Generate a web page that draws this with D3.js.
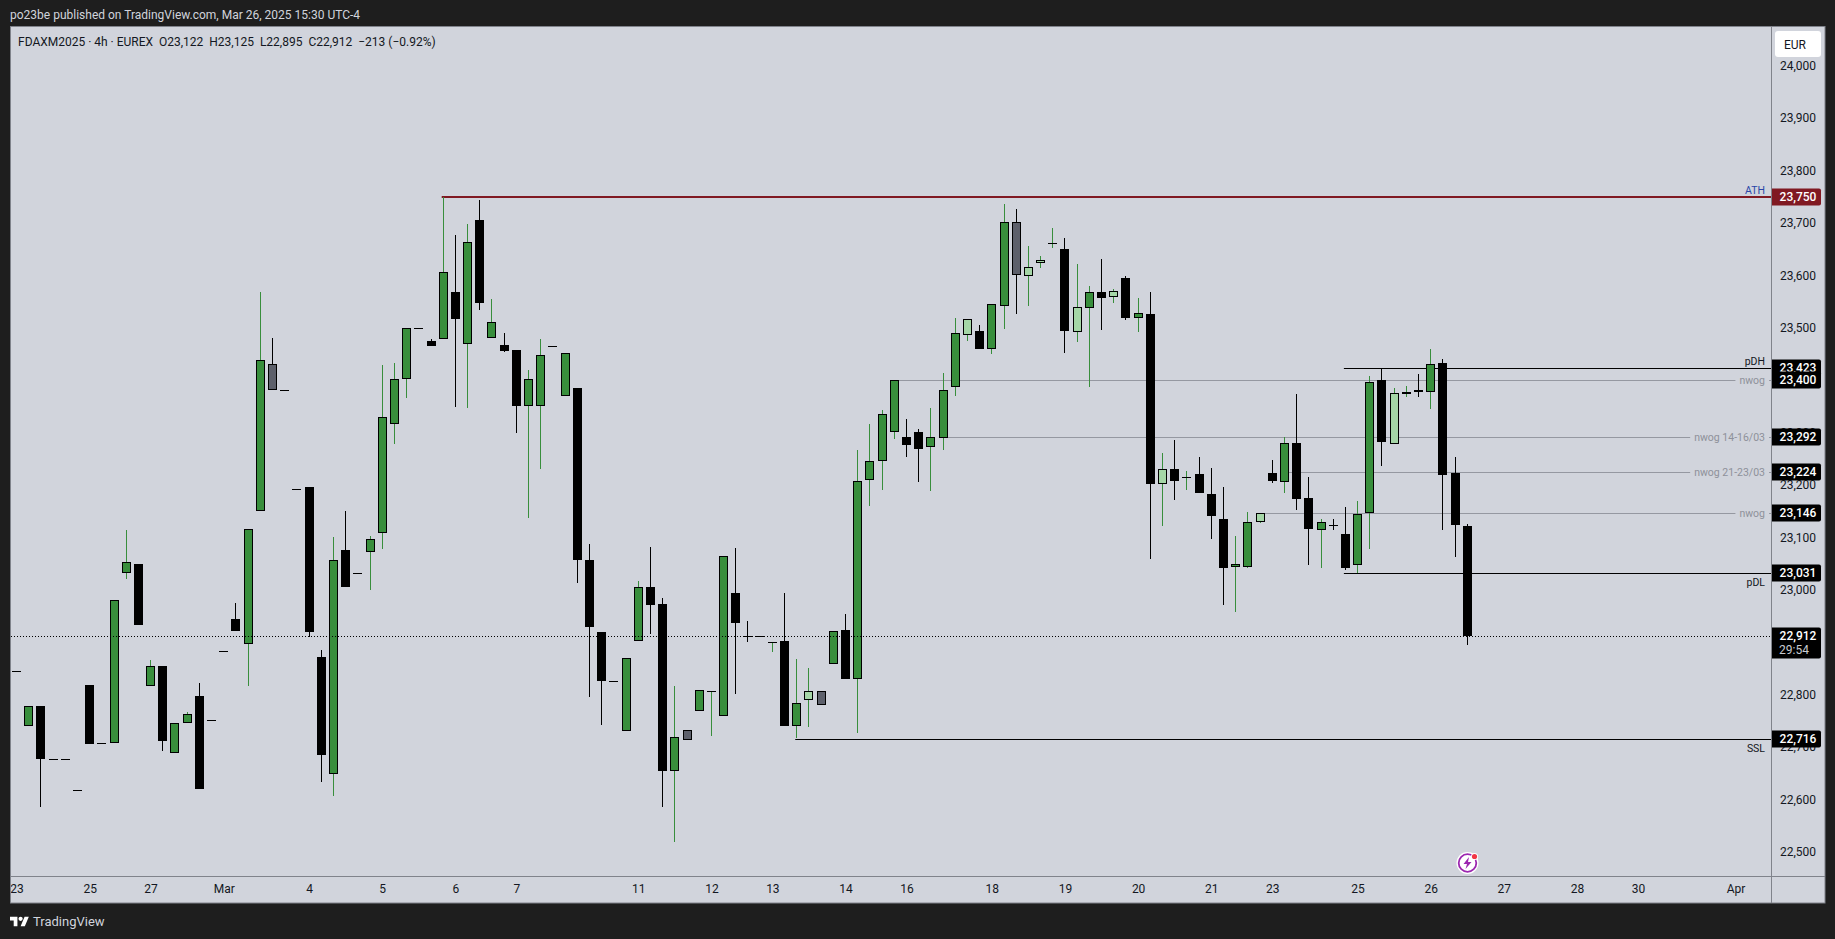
<!DOCTYPE html>
<html>
<head>
<meta charset="utf-8">
<script src="https://cdn.jsdelivr.net/npm/d3@7"></script>
<style>
  html, body { margin: 0; padding: 0; background: #1e1e1e; overflow: hidden; }
  text { font-family: Roboto, "Liberation Sans", sans-serif; }
</style>
</head>
<body>
<div id="chart"></div>
<script>
// k = black (down), g = green (up), l = pale green, s = slate
const styles = [
  "k","g","k","k","k","k","k","k","g","g","k","g","k","g","g","k","k","k","k","g",
  "g","s","k","k","k","k","g","k","k","g","g","g","g","k","k","g","k","g","k","g",
  "k","k","g","g","k","g","k","k","k","k","g","g","k","k","g","s","g","g","g","k",
  "k","k","g","k","g","l","s","g","k","g","g","g","g","k","k","g","g","g","l","k",
  "g","g","s","l","l","g","k","l","g","k","l","k","g","k","l","k","g","k","k","k",
  "g","g","l","k","g","k","k","g","k","k","g","g","k","l","g","k","g","k","k","k"
];
const opens = [
  22844,22739,22778,22676,22676,22617,22818,22707,22707,23031,23049,22816,22855,22688,22745,22797,22751,22883,22944,22896,
  23150,23430,23382,23192,23196,22872,22649,23076,23031,23071,23108,23316,23403,23499,23475,23478,23568,23468,23706,23481,
  23467,23458,23351,23350,23466,23369,23385,23057,22920,22826,22730,22903,23005,22973,22654,22732,22768,22805,22759,22994,
  22912,22911,22898,22902,22739,22789,22806,22859,22923,22829,23209,23245,23301,23292,23301,23272,23290,23386,23486,23493,
  23460,23542,23701,23599,23623,23661,23650,23491,23537,23568,23558,23594,23519,23526,23201,23230,23215,23220,23183,23135,
  23043,23044,23130,23222,23206,23280,23175,23113,23123,23106,23047,23146,23400,23279,23373,23382,23377,23432,23222,23122
];
const highs = [
  22844,22778,22778,22676,22676,22617,22818,22707,22980,23114,23049,22866,22855,22745,22767,22821,22751,22883,22975,23115,
  23568,23481,23382,23192,23196,22885,23101,23151,23031,23103,23429,23433,23499,23499,23479,23750,23677,23698,23744,23555,
  23490,23458,23419,23479,23466,23451,23385,23088,22920,22826,22869,23017,23082,22984,22817,22732,22808,22807,23064,23080,
  22941,22911,22901,22994,22868,22851,22806,22922,22954,23266,23317,23343,23400,23326,23307,23347,23414,23519,23516,23505,
  23545,23736,23727,23656,23637,23690,23671,23622,23580,23631,23574,23599,23557,23568,23261,23286,23227,23254,23233,23196,
  23103,23149,23146,23248,23292,23374,23215,23135,23135,23158,23169,23407,23423,23385,23389,23412,23459,23440,23253,23125
];
const lows = [
  22844,22739,22586,22676,22676,22617,22706,22707,22707,23020,22933,22816,22693,22688,22745,22619,22751,22883,22921,22817,
  23150,23382,23382,23192,22909,22633,22606,23006,23031,23000,23078,23279,23365,23499,23466,23478,23348,23346,23533,23481,
  23453,23300,23136,23231,23466,23369,23012,22796,22741,22826,22730,22903,22916,22585,22518,22714,22768,22720,22759,22801,
  22900,22911,22881,22739,22717,22738,22780,22859,22829,22726,23159,23191,23288,23254,23206,23189,23267,23370,23475,23460,
  23449,23498,23527,23542,23613,23653,23452,23473,23386,23496,23548,23514,23491,23058,23121,23172,23191,23184,23096,22970,
  22957,23042,23128,23204,23185,23153,23048,23042,23113,23037,23031,23077,23237,23279,23368,23368,23344,23114,23063,22895
];
const closes = [
  22844,22778,22676,22676,22676,22617,22706,22707,22980,23052,22933,22854,22711,22745,22763,22619,22751,22883,22921,23115,
  23439,23382,23382,23192,22919,22684,23056,23006,23031,23096,23329,23403,23499,23499,23466,23606,23517,23663,23548,23510,
  23456,23351,23402,23447,23466,23451,23057,22928,22825,22826,22869,23005,22970,22654,22718,22714,22808,22807,23064,22937,
  22910,22911,22901,22739,22784,22806,22780,22922,22829,23207,23245,23335,23400,23277,23269,23291,23381,23489,23516,23460,
  23545,23701,23600,23615,23629,23661,23493,23539,23568,23557,23570,23519,23528,23201,23230,23208,23215,23184,23140,23042,
  23049,23129,23146,23208,23280,23174,23115,23129,23121,23042,23144,23396,23281,23375,23377,23378,23430,23218,23124,22912
];

// 23,400 and 22,900 are fully covered by price tags in the picture
const priceTicks = [24000,23900,23800,23700,23600,23500,23300,23200,23100,23000,22800,22700,22600,22500];
const timeTickBars = [0,6,11,17,24,30,36,41,51,57,62,68,73,80,86,92,98,103,110,116,122,128,133,141];
const timeTickLabels = ["23","25","27","Mar","4","5","6","7","11","12","13","14","16","18","19","20","21","23","25","26","27","28","30","Apr"];

// horizontal rays drawn on the chart
const levelPrices = [23750,23423,23400,23292,23224,23146,23031,22716];
const levelStartBars = [35,109,72,76,104,102,109,64];
const levelNames = ["ATH","pDH","nwog","nwog 14-16/03","nwog 21-23/03","nwog","pDL","SSL"];
const levelKinds = ["red","black","gray","gray","gray","gray","black","black"];
const levelLabelSide = ["above","above","on","on","on","on","below","below"];

const lastPrice = 22912;
const countdown = "29:54";

const width = 1835, height = 939;
const pane = { left: 11, top: 27, right: 1771, bottom: 876, outer: 1825, frameBottom: 903 };

const x = d3.scaleLinear().domain([0, 119]).range([16.5, 1467.3]);
const y = d3.scaleLinear().domain([24000, 22500]).range([65.7, 851.7]);
const barX = i => Math.floor(x(i)) + 0.5;

const svg = d3.select("#chart").append("svg")
  .attr("width", width)
  .attr("height", height)
  .style("display", "block");

svg.append("rect").attr("width", width).attr("height", height).attr("fill", "#1e1e1e");
svg.append("rect")
  .attr("x", 10.5).attr("y", 26.5)
  .attr("width", pane.outer - 10.5).attr("height", pane.frameBottom - 26.5)
  .attr("fill", "#d1d4dc").attr("stroke", "#80838b");

svg.append("defs").append("clipPath").attr("id", "frame")
  .append("rect")
  .attr("x", 11).attr("y", 27)
  .attr("width", pane.outer - 11).attr("height", pane.frameBottom - 27);

// axis separators
svg.append("line").attr("x1", pane.right + 0.5).attr("x2", pane.right + 0.5)
  .attr("y1", 27).attr("y2", pane.frameBottom).attr("stroke", "#80838b");
svg.append("line").attr("x1", 11).attr("x2", pane.outer)
  .attr("y1", pane.bottom + 0.5).attr("y2", pane.bottom + 0.5).attr("stroke", "#80838b");

// price axis
const priceAxis = svg.append("g")
  .attr("transform", "translate(1798,0)")
  .call(d3.axisRight(y).tickValues(priceTicks).tickFormat(d3.format(",")).tickSize(0).tickPadding(0));
priceAxis.select(".domain").remove();
priceAxis.selectAll("text")
  .attr("text-anchor", "middle")
  .attr("font-size", 12)
  .attr("fill", "#131722");

// time axis
const timeAxis = svg.append("g")
  .attr("clip-path", "url(#frame)")
  .append("g")
  .attr("transform", `translate(0,${pane.bottom})`)
  .call(d3.axisBottom(x)
    .tickValues(timeTickBars)
    .tickFormat((d, i) => timeTickLabels[i])
    .tickSize(0)
    .tickPadding(8));
timeAxis.select(".domain").remove();
timeAxis.selectAll("text")
  .attr("font-size", 12)
  .attr("fill", "#131722");

// levels sit behind the candles
const levelColor = { red: "#801922", black: "#000000", gray: "#9598a1" };
const levelLines = svg.append("g");
const levelMasks = svg.append("g");
const levelLabels = svg.append("g");
levelPrices.forEach((price, i) => {
  const kind = levelKinds[i];
  const ly = kind === "red" ? Math.round(y(price)) : Math.round(y(price)) + 0.5;
  levelLines.append("line")
    .attr("x1", x(levelStartBars[i]) - 1.5).attr("x2", pane.right)
    .attr("y1", ly).attr("y2", ly)
    .attr("stroke", levelColor[kind])
    .attr("stroke-width", kind === "red" ? 2 : 1);

  const side = levelLabelSide[i];
  const label = levelLabels.append("text")
    .attr("x", 1765)
    .attr("y", side === "above" ? ly - 7 : side === "below" ? ly + 9 : ly)
    .attr("dy", "0.35em")
    .attr("text-anchor", "end")
    .attr("font-size", 10.5)
    .attr("fill", kind === "gray" ? "#8e919a" : kind === "red" ? "#2a46a8" : "#131722")
    .text(levelNames[i]);
  if (side === "on") {
    const w = label.node().getComputedTextLength();
    levelMasks.append("rect")
      .attr("x", 1765 - w - 4).attr("y", ly - 2)
      .attr("width", w + 8).attr("height", 4)
      .attr("fill", "#d1d4dc");
  }
});

// candles
const bars = d3.range(styles.length);
const upColor = "#388e3c", paleColor = "#a5d6a7", slateColor = "#5d606b";
const fillOf = { g: upColor, l: paleColor, s: slateColor };

svg.append("g").selectAll("line")
  .data(bars)
  .enter().append("line")
  .attr("x1", barX).attr("x2", barX)
  .attr("y1", i => Math.round(y(highs[i])))
  .attr("y2", i => Math.round(y(lows[i])))
  .attr("stroke", i => (styles[i] === "g" || styles[i] === "l") ? upColor : "#000000")
  .attr("stroke-width", 1);

const bodyTop = i => Math.round(y(Math.max(opens[i], closes[i])));
const bodyHeight = i => Math.max(1, Math.round(y(Math.min(opens[i], closes[i]))) - bodyTop(i));

svg.append("g").selectAll("rect")
  .data(bars)
  .enter().append("rect")
  .attr("x", i => barX(i) - 4.5)
  .attr("y", bodyTop)
  .attr("width", 9)
  .attr("height", bodyHeight)
  .attr("fill", "#000000");

svg.append("g").selectAll("rect")
  .data(bars.filter(i => styles[i] !== "k" && bodyHeight(i) > 2))
  .enter().append("rect")
  .attr("x", i => barX(i) - 3.5)
  .attr("y", i => bodyTop(i) + 1)
  .attr("width", 7)
  .attr("height", i => bodyHeight(i) - 2)
  .attr("fill", i => fillOf[styles[i]]);

// last price dotted line
svg.append("line")
  .attr("x1", 11).attr("x2", pane.right)
  .attr("y1", Math.round(y(lastPrice)) + 0.5).attr("y2", Math.round(y(lastPrice)) + 0.5)
  .attr("stroke", "#000000")
  .attr("stroke-dasharray", "1,2");

// price tags
const tagFormat = d3.format(",");
function tag(price, fill, boxH) {
  const ty = Math.round(y(price));
  svg.append("path")
    .attr("d", `M1772,${ty - 8.5}H1819a2,2 0 0 1 2,2V${ty - 8.5 + boxH - 2}a2,2 0 0 1 -2,2H1772Z`)
    .attr("fill", fill);
  svg.append("text")
    .attr("x", 1798).attr("y", ty)
    .attr("dy", "0.35em")
    .attr("text-anchor", "middle")
    .attr("font-size", 12)
    .attr("font-weight", 500)
    .attr("fill", "#ffffff")
    .text(tagFormat(price));
}
levelPrices.forEach((price, i) => tag(price, levelKinds[i] === "red" ? "#801922" : "#000000", 17));
tag(lastPrice, "#000000", 31);
svg.append("text")
  .attr("x", 1794).attr("y", Math.round(y(lastPrice)) + 14)
  .attr("dy", "0.35em")
  .attr("text-anchor", "middle")
  .attr("font-size", 12)
  .attr("fill", "#c9cbd1")
  .text(countdown);

// currency box
svg.append("rect")
  .attr("x", 1775).attr("y", 31).attr("width", 46).attr("height", 26)
  .attr("rx", 3).attr("fill", "#ffffff");
svg.append("text")
  .attr("x", 1784).attr("y", 44.5).attr("dy", "0.35em")
  .attr("font-size", 12).attr("fill", "#131722").text("EUR");

// header and legend
svg.append("text")
  .attr("x", 10).attr("y", 15).attr("dy", "0.35em")
  .attr("font-size", 12).attr("fill", "#d1d4dc")
  .text("po23be published on TradingView.com, Mar 26, 2025 15:30 UTC-4");
svg.append("text")
  .attr("x", 18).attr("y", 41.5).attr("dy", "0.35em")
  .attr("font-size", 12).attr("fill", "#131722")
  .attr("xml:space", "preserve").style("white-space", "pre")
  .text("FDAXM2025 · 4h · EUREX  O23,122  H23,125  L22,895  C22,912  −213 (−0.92%)");

// footer logo
const logo = svg.append("g")
  .attr("transform", "translate(10,914.6) scale(0.53)")
  .attr("fill", "#ffffff");
logo.append("path").attr("d", "M14 22H7V11H0V4h14v18zM28 22h-8l7.5-18h8L28 22z");
logo.append("circle").attr("cx", 20).attr("cy", 8).attr("r", 4);
svg.append("text")
  .attr("x", 33).attr("y", 921.5).attr("dy", "0.35em")
  .attr("font-size", 13).attr("fill", "#d1d4dc").text("TradingView");

// news badge
const badge = svg.append("g").attr("transform", "translate(1467.5,863)");
badge.append("circle").attr("r", 11).attr("fill", "#ffffff");
badge.append("circle").attr("r", 8.8).attr("fill", "none").attr("stroke", "#9c27b0").attr("stroke-width", 1.8);
badge.append("path").attr("d", "M1.5,-6L-4,1H-0.5L-2,6L4,-1H0.5Z").attr("fill", "#9c27b0");
badge.append("circle").attr("cx", 7).attr("cy", -6.5).attr("r", 3.5).attr("fill", "#ffffff");
badge.append("circle").attr("cx", 7).attr("cy", -6.5).attr("r", 2.6).attr("fill", "#f23645");
</script>
</body>
</html>
